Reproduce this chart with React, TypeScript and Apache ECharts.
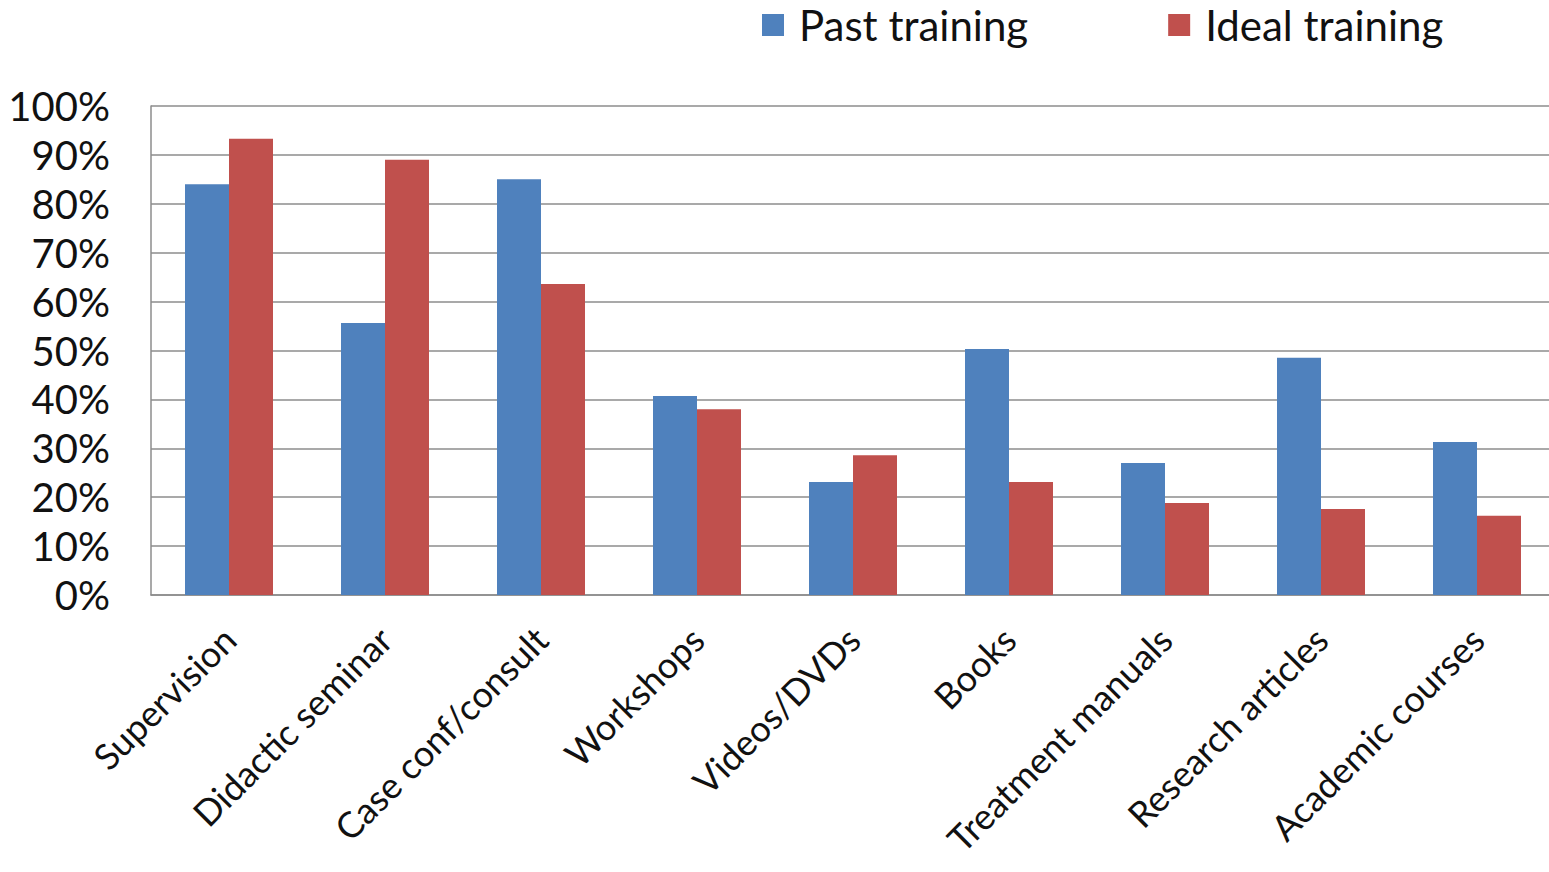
import React, { useEffect, useRef } from "react";
import * as echarts from "echarts";

const categories = [
  "Supervision",
  "Didactic seminar",
  "Case conf/consult",
  "Workshops",
  "Videos/DVDs",
  "Books",
  "Treatment manuals",
  "Research articles",
  "Academic courses",
];

const pastTraining = [84, 55.6, 85, 40.7, 23.1, 50.3, 27, 48.5, 31.3];
const idealTraining = [93.3, 89, 63.6, 38, 28.6, 23.1, 18.8, 17.6, 16.2];

const FONT = "Lato, 'Open Sans', sans-serif";

export default function App() {
  const ref = useRef<HTMLDivElement>(null);

  useEffect(() => {
    if (!ref.current) return;
    const chart = echarts.init(ref.current, undefined, { renderer: "svg" });
    chart.setOption({
      animation: false,
      backgroundColor: "#ffffff",
      textStyle: { fontFamily: FONT },
      legend: {
        left: 762,
        top: 4,
        padding: 0,
        icon: "rect",
        itemWidth: 22,
        itemHeight: 22,
        itemGap: 140,
        textStyle: {
          fontSize: 42,
          color: "#111",
          fontFamily: FONT,
          padding: [0, 0, 0, 10],
        },
        data: ["Past training", "Ideal training"],
      },
      grid: { left: 151, right: 5, top: 106, bottom: 277 },
      xAxis: {
        type: "category",
        data: categories,
        axisLine: { lineStyle: { color: "#8c8c8c", width: 1.5 } },
        axisTick: { show: false },
        axisLabel: {
          rotate: 45,
          interval: 0,
          margin: 38,
          fontSize: 36,
          color: "#111",
          fontFamily: FONT,
        },
      },
      yAxis: {
        type: "value",
        min: 0,
        max: 100,
        interval: 10,
        axisLine: { show: true, lineStyle: { color: "#8c8c8c", width: 1.5 } },
        axisTick: { show: false },
        splitLine: { lineStyle: { color: "#8c8c8c", width: 1.5 } },
        axisLabel: {
          formatter: "{value}%",
          fontSize: 40,
          margin: 41,
          color: "#111",
          fontFamily: FONT,
        },
      },
      series: [
        {
          name: "Past training",
          type: "bar",
          data: pastTraining,
          barWidth: 44,
          barGap: "0%",
          itemStyle: { color: "#4F81BD" },
        },
        {
          name: "Ideal training",
          type: "bar",
          data: idealTraining,
          barWidth: 44,
          barGap: "0%",
          itemStyle: { color: "#C0504D" },
        },
      ],
    });
    return () => chart.dispose();
  }, []);

  return (
    <div
      style={{
        position: "fixed",
        left: 0,
        top: 0,
        width: 1549,
        height: 872,
        overflow: "hidden",
        background: "#fff",
      }}
    >
      <div ref={ref} style={{ width: 1560, height: 872 }} />
    </div>
  );
}
